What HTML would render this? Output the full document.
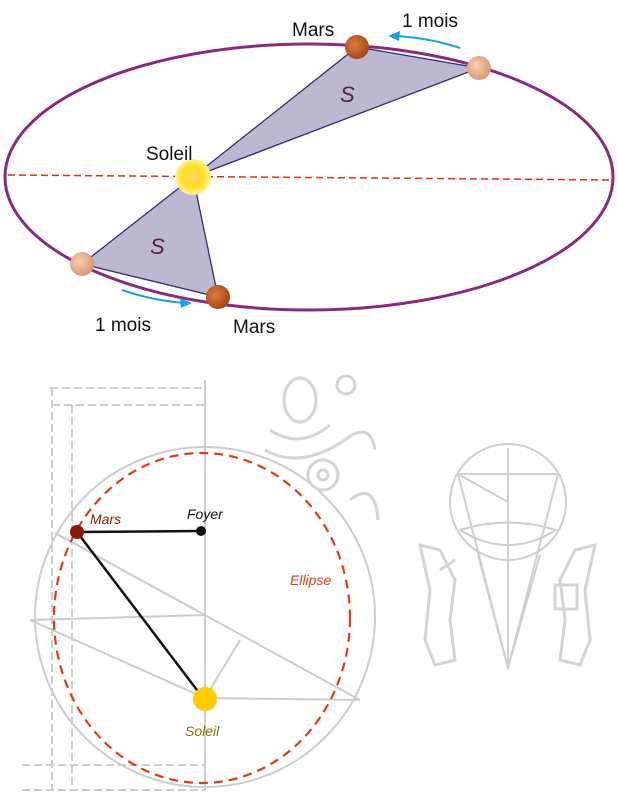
<!DOCTYPE html>
<html><head><meta charset="utf-8"><style>
body{margin:0;background:#fff;width:618px;height:807px;overflow:hidden}
svg{display:block}
</style></head><body>
<svg width="618" height="807" viewBox="0 0 618 807" xmlns="http://www.w3.org/2000/svg">
<defs>
<radialGradient id="sun" cx="50%" cy="50%" r="50%"><stop offset="0" stop-color="#ffd070"/><stop offset="0.6" stop-color="#ffe020"/><stop offset="1" stop-color="#fff3a0"/></radialGradient>
<radialGradient id="mars" cx="40%" cy="40%" r="60%"><stop offset="0" stop-color="#e07a40"/><stop offset="1" stop-color="#a84818"/></radialGradient>
<radialGradient id="pale" cx="40%" cy="40%" r="60%"><stop offset="0" stop-color="#f8d0b0"/><stop offset="1" stop-color="#d89878"/></radialGradient>
</defs>
<polygon points="193,177 357,47 479,68" fill="#bcb8d2" stroke="#2e2e70" stroke-width="1.3"/>
<polygon points="193,177 82,264 218,297" fill="#bcb8d2" stroke="#2e2e70" stroke-width="1.3"/>
<ellipse cx="309" cy="177" rx="304" ry="133" fill="none" stroke="#8a2a7e" stroke-width="3"/>
<line x1="8" y1="175" x2="613" y2="180" stroke="#e03010" stroke-width="1.5" stroke-dasharray="7,4"/>
<circle cx="193" cy="177" r="18" fill="url(#sun)"/>
<circle cx="357" cy="47" r="12" fill="url(#mars)"/>
<circle cx="479" cy="68" r="12" fill="url(#pale)"/>
<circle cx="82" cy="264" r="12" fill="url(#pale)"/>
<circle cx="218" cy="297" r="12" fill="url(#mars)"/>
<path d="M460,48 Q430,38 396,36" fill="none" stroke="#1aa0e0" stroke-width="2"/>
<polygon points="388,36 400,31 399,41" fill="#1aa0e0"/>
<path d="M122,290 Q150,300 184,303" fill="none" stroke="#1aa0e0" stroke-width="2"/>
<polygon points="192,303 180,298 181,308" fill="#1aa0e0"/>
<g font-family="Liberation Sans, sans-serif" font-size="19" fill="#111">
<text x="292" y="36">Mars</text>
<text x="402" y="27">1 mois</text>
<text x="146" y="160">Soleil</text>
<text x="95" y="331">1 mois</text>
<text x="233" y="333">Mars</text>
</g>
<g font-family="Liberation Sans, sans-serif" font-size="22" font-style="italic" fill="#5a1a50">
<text x="340" y="102">S</text><text x="150" y="254">S</text>
</g>
<g fill="none" stroke="#cdcdcd" stroke-width="2">
<circle cx="205" cy="617" r="170"/>
<path d="M50,388 H205 M52,405 H205 M52,388 V790 M72,405 V790 M22,765 H205 M22,790 H205" stroke-dasharray="8,4"/>
<line x1="205" y1="380" x2="205" y2="790"/>
<line x1="55" y1="533" x2="205" y2="615"/>
<line x1="55" y1="533" x2="360" y2="700"/>
<line x1="30" y1="620" x2="205" y2="615"/>
<line x1="30" y1="620" x2="205" y2="698"/>
<line x1="205" y1="698" x2="360" y2="700"/>
<line x1="205" y1="698" x2="240" y2="640"/>
</g>
<g fill="none" stroke="#d4d4d4" stroke-width="3">
<ellipse cx="300" cy="400" rx="16" ry="22"/><path d="M270,430 Q300,450 330,425 M265,450 Q300,470 345,440"/>
<circle cx="323" cy="475" r="15"/><circle cx="323" cy="475" r="5"/>
<circle cx="346" cy="385" r="9"/>
<path d="M345,440 Q370,420 375,450 M350,500 Q375,480 378,520"/>
</g>
<ellipse cx="202" cy="618" rx="148" ry="165" fill="none" stroke="#e83818" stroke-width="2.2" stroke-dasharray="9,6"/>
<line x1="77" y1="532" x2="201" y2="531" stroke="#111" stroke-width="2.5"/>
<line x1="77" y1="532" x2="200" y2="694" stroke="#111" stroke-width="2.5"/>
<circle cx="77" cy="532" r="7" fill="#8a1a08"/>
<circle cx="201" cy="531" r="5" fill="#111"/>
<circle cx="205" cy="699" r="12" fill="#ffcc00"/>
<g font-family="Liberation Sans, sans-serif" font-size="14" font-style="italic">
<text x="90" y="524" fill="#8a1a08">Mars</text>
<text x="187" y="519" fill="#111">Foyer</text>
<text x="290" y="585" fill="#e83818">Ellipse</text>
<text x="185" y="736" fill="#8a7000">Soleil</text>
</g>
<g fill="none" stroke="#cfcfcf" stroke-width="2">
<circle cx="508" cy="502" r="58"/>
<path d="M458,474 L508,668 L558,474 M458,474 H558 M508,448 V668 M458,474 L508,502"/>
<path d="M460,530 Q508,560 556,530 Q508,515 460,530"/>
<path d="M478,555 L508,668 L540,555"/>
</g>
<g fill="none" stroke="#d4d4d4" stroke-width="3">
<path d="M420,545 L430,590 L425,640 L435,665 L455,660 L450,620 L455,580 L440,550 Z"/>
<path d="M595,545 L585,590 L590,640 L580,665 L560,660 L565,620 L560,580 L575,550 Z"/>
<rect x="555" y="585" width="22" height="24"/>
<path d="M440,570 L455,560"/>
</g>
</svg>
</body></html>
